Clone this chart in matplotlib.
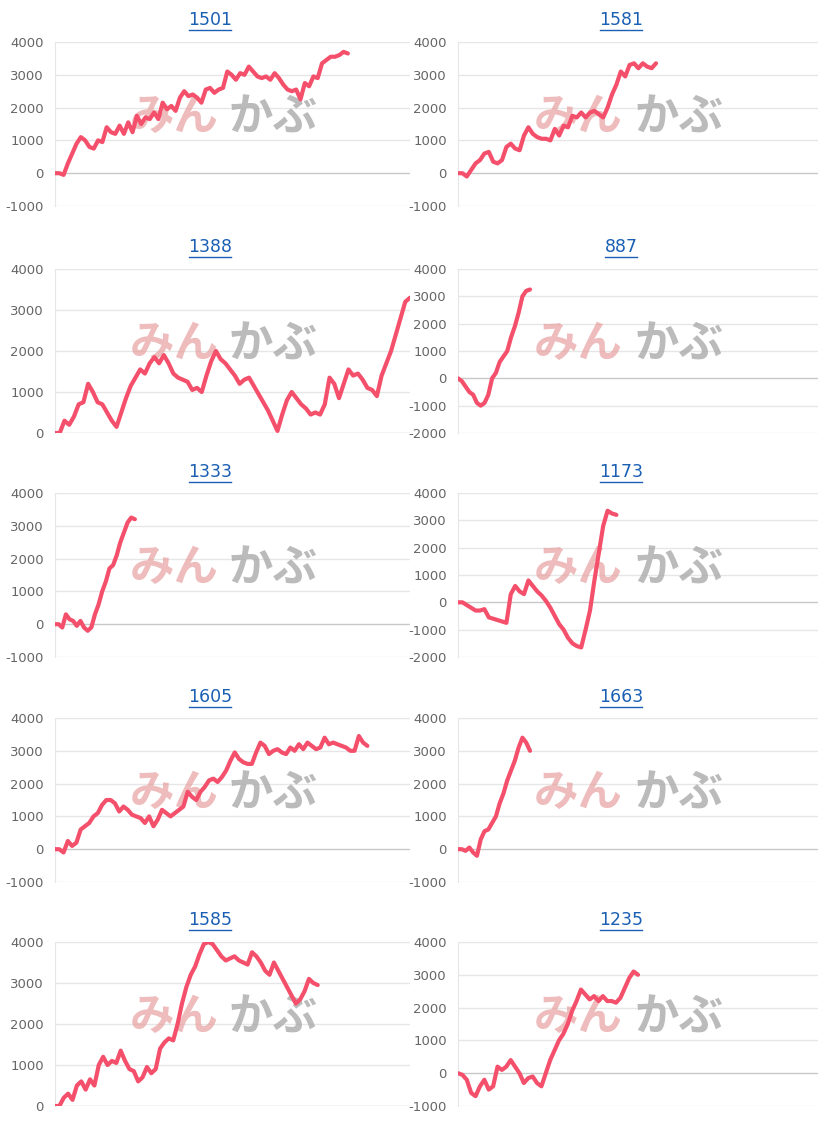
import matplotlib
matplotlib.use("Agg")
import matplotlib.pyplot as plt
from matplotlib.lines import Line2D
plt.rcParams['axes.unicode_minus'] = False

titles = ["1501", "1581", "1388", "887", "1333", "1173", "1605", "1663", "1585", "1235"]
s1501 = [0, 0, -50, 300, 600, 900, 1100, 1000, 800, 750, 1000, 950, 1400, 1250, 1200, 1450, 1200, 1550, 1250, 1750, 1500, 1700, 1650, 1850, 1650, 2150, 1950, 2050, 1900, 2300, 2500, 2350, 2400, 2300, 2150, 2550, 2600, 2450, 2550, 2600, 3100, 3000, 2850, 3050, 3000, 3250, 3100, 2950, 2900, 2950, 2850, 3050, 2900, 2700, 2550, 2500, 2550, 2250, 2750, 2650, 2950, 2900, 3350, 3450, 3550, 3550, 3600, 3700, 3650]
s1581 = [0, 0, -100, 100, 300, 400, 600, 650, 350, 300, 400, 800, 900, 750, 700, 1150, 1400, 1200, 1100, 1050, 1050, 1000, 1350, 1150, 1450, 1400, 1750, 1700, 1850, 1700, 1850, 1900, 1800, 1700, 2000, 2400, 2700, 3100, 2950, 3300, 3350, 3200, 3350, 3250, 3200, 3350]
s1388 = [0, 0, 300, 200, 400, 700, 750, 1200, 1000, 750, 700, 500, 300, 150, 500, 850, 1150, 1350, 1550, 1450, 1700, 1850, 1700, 1900, 1700, 1450, 1350, 1300, 1250, 1050, 1100, 1000, 1400, 1750, 2000, 1800, 1700, 1550, 1400, 1200, 1300, 1350, 1150, 950, 750, 550, 300, 50, 450, 800, 1000, 850, 700, 600, 450, 500, 450, 700, 1350, 1200, 850, 1200, 1550, 1400, 1450, 1300, 1100, 1050, 900, 1400, 1700, 2000, 2400, 2800, 3200, 3300]
s887 = [0, -100, -300, -500, -600, -900, -1000, -900, -600, 0, 200, 600, 800, 1000, 1500, 1900, 2400, 3000, 3200, 3250]
s1333 = [0, 0, -100, 300, 150, 100, -50, 100, -100, -200, -100, 300, 600, 1000, 1300, 1700, 1800, 2100, 2500, 2800, 3100, 3250, 3200]
s1173 = [0, 0, -100, -200, -300, -300, -250, -550, -600, -650, -700, -750, 300, 600, 400, 300, 800, 600, 400, 250, 50, -200, -500, -800, -1000, -1300, -1500, -1600, -1650, -1000, -300, 800, 1800, 2800, 3350, 3250, 3200]
s1605 = [0, 0, -100, 250, 100, 200, 600, 700, 800, 1000, 1100, 1350, 1500, 1500, 1400, 1150, 1300, 1200, 1050, 1000, 950, 800, 1000, 700, 900, 1200, 1100, 1000, 1100, 1200, 1300, 1750, 1600, 1500, 1750, 1900, 2100, 2150, 2050, 2200, 2400, 2700, 2950, 2750, 2650, 2600, 2600, 2950, 3250, 3150, 2900, 3000, 3050, 2950, 2900, 3100, 3000, 3200, 3050, 3250, 3150, 3050, 3100, 3400, 3200, 3250, 3200, 3150, 3100, 3000, 3000, 3450, 3250, 3150]
s1663 = [0, 0, -50, 50, -100, -200, 300, 550, 600, 800, 1000, 1400, 1700, 2100, 2400, 2700, 3100, 3400, 3250, 3000]
s1585 = [0, 0, 200, 300, 150, 500, 600, 400, 650, 500, 1000, 1200, 1000, 1100, 1050, 1350, 1100, 900, 850, 600, 700, 950, 800, 900, 1400, 1550, 1650, 1600, 2000, 2500, 2900, 3200, 3400, 3700, 3950, 4000, 3950, 3800, 3650, 3550, 3600, 3650, 3550, 3500, 3450, 3750, 3650, 3500, 3300, 3200, 3500, 3300, 3100, 2900, 2700, 2500, 2600, 2800, 3100, 3000, 2950]
s1235 = [0, -50, -200, -600, -700, -400, -200, -500, -400, 200, 100, 200, 400, 200, 0, -300, -150, -100, -300, -400, 0, 400, 700, 1000, 1200, 1500, 1900, 2200, 2550, 2400, 2250, 2350, 2200, 2350, 2200, 2200, 2150, 2300, 2600, 2900, 3100, 3000]
series = [s1501, s1581, s1388, s887, s1333, s1173, s1605, s1663, s1585, s1235]
fractions = [0.825, 0.55, 1.0, 0.2, 0.225, 0.44, 0.88, 0.2, 0.74, 0.5]
yranges = [(-1000, 4000), (-1000, 4000), (0, 4000), (-2000, 4000), (-1000, 4000),
           (-2000, 4000), (-1000, 4000), (-1000, 4000), (0, 4000), (-1000, 4000)]

W, H = 822, 1125
fig = plt.figure(figsize=(W/100, H/100), dpi=100)
fig.patch.set_facecolor("white")
row_tops = [42, 269, 493, 718, 942]
ax_h = 164
cols = [(55, 410), (458, 818)]
title_y = [20, 247, 472, 697, 920]
title_x = [210, 621]

for i in range(10):
    r, c = divmod(i, 2)
    x0, x1 = cols[c]
    top = row_tops[r]
    ax = fig.add_axes([x0/W, 1-(top+ax_h)/H, (x1-x0)/W, ax_h/H])
    s = series[i]
    n = len(s)
    xmax = (n-1)/fractions[i]
    ax.plot(range(n), s, color="#f4506c", lw=3, solid_capstyle="round", zorder=3)
    ax.set_xlim(0, xmax)
    lo, hi = yranges[i]
    ax.set_ylim(lo, hi)
    ax.set_yticks(range(lo, hi+1, 1000))
    ax.set_xticks([])
    for yv in range(lo, hi+1, 1000):
        ax.axhline(yv, color="#c8c8c8" if yv == 0 else "#e6e6e6", lw=1, zorder=1)
    for sp in ["top", "right", "bottom"]:
        ax.spines[sp].set_visible(False)
    ax.spines["left"].set_color("#e6e6e6")
    ax.tick_params(axis="y", length=0, labelsize=9.5, colors="#666666", pad=8)
    ax.set_facecolor("none")
    wy = 0.54
    ax.text(0.21, wy, "みん", transform=ax.transAxes, fontsize=32, fontweight="bold",
            style="italic", color="#e8a0a0", alpha=0.7, family=["Noto Sans CJK JP"],
            ha="left", va="center", zorder=2)
    ax.text(0.49, wy, "かぶ", transform=ax.transAxes, fontsize=32, fontweight="bold",
            style="italic", color="#aaaaaa", alpha=0.8, family=["Noto Sans CJK JP"],
            ha="left", va="center", zorder=2)
    cx = title_x[c]
    ty = title_y[r]
    fig.text(cx/W, 1-ty/H, titles[i], color="#1a5fb4", fontsize=12.5, ha="center", va="center")
    half = len(titles[i]) * 5.2
    fig.add_artist(Line2D([(cx-half)/W, (cx+half)/W], [1-(ty+10)/H]*2, color="#1a5fb4", lw=1))

fig.savefig("out.png", dpi=100, facecolor="white")
